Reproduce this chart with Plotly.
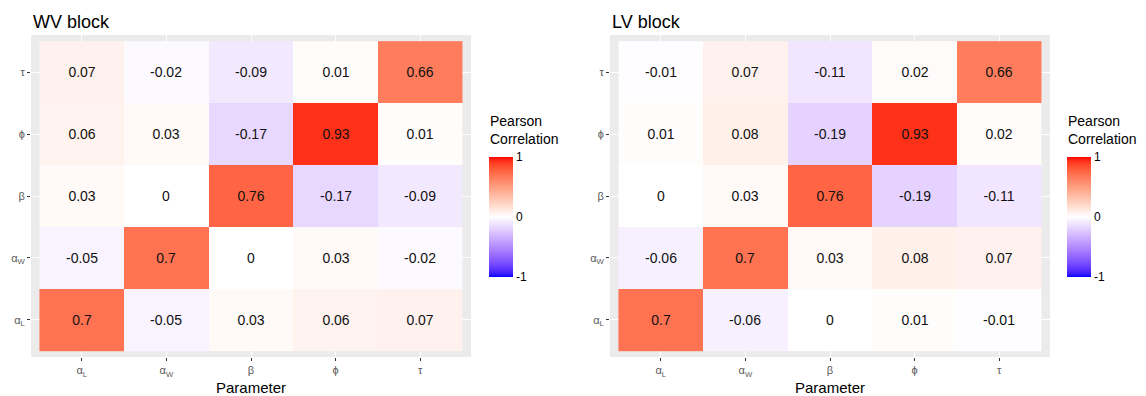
import plotly.graph_objects as go

# ---------------- data ----------------
params = ["α<sub>L</sub>", "α<sub>W</sub>", "β", "ϕ", "τ"]  # bottom->top / left->right

# rows listed bottom (α_L) to top (τ); columns α_L, α_W, β, ϕ, τ
wv_aL = [0.7, -0.05, 0.03, 0.06, 0.07]
wv_aW = [-0.05, 0.7, 0, 0.03, -0.02]
wv_b = [0.03, 0, 0.76, -0.17, -0.09]
wv_phi = [0.06, 0.03, -0.17, 0.93, 0.01]
wv_tau = [0.07, -0.02, -0.09, 0.01, 0.66]

lv_aL = [0.7, -0.06, 0, 0.01, -0.01]
lv_aW = [-0.06, 0.7, 0.03, 0.08, 0.07]
lv_b = [0, 0.03, 0.76, -0.19, -0.11]
lv_phi = [0.01, 0.08, -0.19, 0.93, 0.02]
lv_tau = [-0.01, 0.07, -0.11, 0.02, 0.66]

wv = [wv_aL, wv_aW, wv_b, wv_phi, wv_tau]
lv = [lv_aL, lv_aW, lv_b, lv_phi, lv_tau]

panel_titles = ["WV block", "LV block"]
legend_title = "Pearson<br>Correlation"
cbar_ticks = [-1, 0, 1]


# ---------------- colour scale (Lab interpolation like ggplot gradient2) ----------------
def srgb_to_lin(c):
    c = c / 255.0
    return c / 12.92 if c <= 0.04045 else ((c + 0.055) / 1.055) ** 2.4


def lin_to_srgb(c):
    c = max(0.0, min(1.0, c))
    v = 12.92 * c if c <= 0.0031308 else 1.055 * c ** (1 / 2.4) - 0.055
    return int(round(max(0, min(1, v)) * 255))


def rgb_to_lab(rgb):
    r, g, b = [srgb_to_lin(v) for v in rgb]
    X = 0.4124 * r + 0.3576 * g + 0.1805 * b
    Y = 0.2126 * r + 0.7152 * g + 0.0722 * b
    Z = 0.0193 * r + 0.1192 * g + 0.9505 * b
    Xn, Yn, Zn = 0.95047, 1.0, 1.08883

    def f(t):
        return t ** (1 / 3) if t > 0.008856 else 7.787 * t + 16 / 116

    fx, fy, fz = f(X / Xn), f(Y / Yn), f(Z / Zn)
    return (116 * fy - 16, 500 * (fx - fy), 200 * (fy - fz))


def lab_to_rgb(lab):
    L, a, b = lab
    fy = (L + 16) / 116
    fx = fy + a / 500
    fz = fy - b / 200

    def finv(t):
        return t ** 3 if t ** 3 > 0.008856 else (t - 16 / 116) / 7.787

    X, Y, Z = 0.95047 * finv(fx), finv(fy), 1.08883 * finv(fz)
    r = 3.2406 * X - 1.5372 * Y - 0.4986 * Z
    g = -0.9689 * X + 1.8758 * Y + 0.0415 * Z
    bb = 0.0557 * X - 0.2040 * Y + 1.0570 * Z
    return (lin_to_srgb(r), lin_to_srgb(g), lin_to_srgb(bb))


def lab_mix(c1, c2, t):
    l1, l2 = rgb_to_lab(c1), rgb_to_lab(c2)
    return lab_to_rgb(tuple(a + (b - a) * t for a, b in zip(l1, l2)))


BLUE, WHITE, RED = (0, 0, 255), (255, 255, 255), (255, 0, 0)
colorscale = []
N = 20
for i in range(N + 1):
    t = i / N
    c = lab_mix(BLUE, WHITE, t)
    colorscale.append([0.5 * t, "rgb(%d,%d,%d)" % c])
for i in range(1, N + 1):
    t = i / N
    c = lab_mix(WHITE, RED, t)
    colorscale.append([0.5 + 0.5 * t, "rgb(%d,%d,%d)" % c])

# ---------------- layout geometry ----------------
W, H = 1146, 396


def px_x(p):
    return p / W


def px_y(p):
    return 1 - p / H


FONT = "Liberation Sans, Arial, sans-serif"

fig = go.Figure()

panels = [
    dict(data=wv, xa="x", ya="y", xname="xaxis", yname="yaxis", coloraxis="coloraxis",
         left=31, right=471, cbx=489),
    dict(data=lv, xa="x2", ya="y2", xname="xaxis2", yname="yaxis2", coloraxis="coloraxis2",
         left=610, right=1050, cbx=1067),
]

idx = list(range(len(params)))
layout = dict(
    width=W, height=H,
    margin=dict(l=0, r=0, t=0, b=0),
    paper_bgcolor="white",
    plot_bgcolor="#EBEBEB",
    font=dict(family=FONT, color="#000000"),
    showlegend=False,
)

annotations = []
for k, p in enumerate(panels):
    z = p["data"]
    text = [["%g" % v for v in row] for row in z]
    fig.add_trace(go.Heatmap(
        x=idx, y=idx, z=z, text=text, texttemplate="%{text}",
        textfont=dict(size=14, color="#111111", family=FONT),
        coloraxis=p["coloraxis"], xaxis=p["xa"], yaxis=p["ya"],
        hoverinfo="skip",
    ))
    axis_common = dict(
        range=[-0.6, 4.6], tickmode="array", tickvals=idx, ticktext=params,
        showgrid=True, gridcolor="white", gridwidth=1, zeroline=False,
        ticks="outside", ticklen=3, tickcolor="#333333", tickwidth=1,
        tickfont=dict(size=11, color="#5A5A5A", family=FONT),
        showline=False, fixedrange=True,
    )
    layout[p["xname"]] = dict(
        axis_common, domain=[px_x(p["left"]), px_x(p["right"])],
        anchor=p["ya"],
        title=dict(text="Parameter", font=dict(size=15, color="#000000"), standoff=5),
    )
    layout[p["yname"]] = dict(
        axis_common, domain=[px_y(357), px_y(35)], anchor=p["xa"],
    )
    layout[p["coloraxis"]] = dict(
        cmin=-1, cmax=1, colorscale=colorscale,
        colorbar=dict(
            x=px_x(p["cbx"]), xanchor="left", xref="paper",
            y=px_y(157), yanchor="top",
            thickness=24, thicknessmode="pixels",
            len=120, lenmode="pixels",
            tickvals=cbar_ticks, ticktext=[str(v) for v in cbar_ticks],
            ticks="", tickfont=dict(size=12, color="#000000"),
            outlinewidth=0, xpad=0, ypad=0,
        ),
    )
    annotations.append(dict(
        text=panel_titles[k], x=px_x(p["left"]), y=px_y(22), xref="paper", yref="paper",
        xanchor="left", yanchor="middle", showarrow=False,
        font=dict(size=18, color="#000000", family=FONT),
    ))
    annotations.append(dict(
        text=legend_title, x=px_x(p["cbx"] - 1), y=px_y(111), xref="paper", yref="paper",
        xanchor="left", yanchor="top", showarrow=False, align="left",
        font=dict(size=14, color="#000000", family=FONT),
    ))

layout["annotations"] = annotations
fig.update_layout(**layout)
fig.write_html("out.html")
